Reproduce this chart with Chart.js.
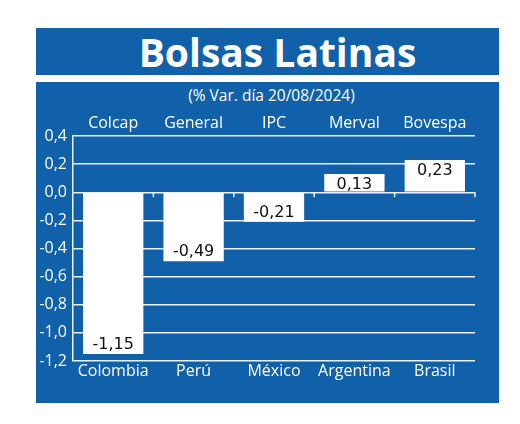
<!DOCTYPE html>
<html>
<head>
<meta charset="utf-8">
<script src="https://cdn.jsdelivr.net/npm/chart.js@4"></script>
<style>
  body { margin: 0; background: #fff; width: 520px; height: 424px; position: relative; overflow: hidden; font-family: 'Open Sans', sans-serif; }
  .box { position: absolute; left: 36px; width: 463px; background: #1160aa; }
  #head { top: 28px; height: 47px; color: #fff; font-weight: 700; font-size: 39px; line-height: 47px; text-align: center; }
  #head span { position: relative; left: 10px; }
  #panel { top: 82px; height: 321px; }
  #sub { position: absolute; left: 0; width: 463px; top: 2px; text-align: center; color: #fff; font-size: 15.5px; }
  #sub span { position: relative; left: 4px; }
  #chart { position: absolute; left: 0; top: 0; }
</style>
</head>
<body>
<div id="head" class="box"><span>Bolsas Latinas</span></div>
<div id="panel" class="box">
  <div id="sub"><span>(% Var. día 20/08/2024)</span></div>
  <canvas id="chart" width="463" height="321"></canvas>
</div>
<script>
// datos del grafico
const paises = ['Colombia', 'Perú', 'México', 'Argentina', 'Brasil']
const indices = ['Colcap', 'General', 'IPC', 'Merval', 'Bovespa']
const variacion = [-1.15, -0.49, -0.21, 0.13, 0.23]

const blanco = '#ffffff'
const lineas = '#e6f3ff'

function coma(v) {
  return v.toFixed(2).replace('.', ',')
}

// etiquetas con el valor dentro de cada barra
const etiquetas = {
  id: 'etiquetas',
  afterDatasetsDraw(chart) {
    const ctx = chart.ctx
    const meta = chart.getDatasetMeta(0)
    ctx.save()
    ctx.font = '16px "DejaVu Sans"'
    ctx.fillStyle = '#111'
    ctx.textAlign = 'center'
    meta.data.forEach((bar, i) => {
      let v = variacion[i]
      if (v >= 0) {
        ctx.textBaseline = 'top'
        ctx.fillText(coma(v), bar.x, bar.y + 3)
      } else {
        ctx.textBaseline = 'bottom'
        ctx.fillText(coma(v), bar.x, bar.y - 1)
      }
    })
    ctx.restore()
  }
}

// marcas pequeñas sobre la linea del cero
const marcas = {
  id: 'marcas',
  afterDatasetsDraw(chart) {
    const x = chart.scales.x
    const y = chart.scales.y
    const ctx = chart.ctx
    let paso = (x.getPixelForValue(1) - x.getPixelForValue(0)) / 2
    let cero = y.getPixelForValue(0)
    ctx.save()
    ctx.strokeStyle = lineas
    ctx.lineWidth = 1.5
    for (let i = 0; i < paises.length; i++) {
      let px = x.getPixelForValue(i) + paso
      ctx.beginPath()
      ctx.moveTo(px, cero)
      ctx.lineTo(px, cero + 5)
      ctx.stroke()
    }
    ctx.restore()
  }
}

Chart.defaults.font.family = "'Open Sans'"
Chart.defaults.font.size = 16
Chart.defaults.color = blanco

new Chart(document.getElementById('chart'), {
  type: 'bar',
  data: {
    labels: paises,
    datasets: [{
      data: variacion,
      backgroundColor: blanco,
      borderWidth: 0,
      barPercentage: 0.75,
      categoryPercentage: 1
    }]
  },
  options: {
    responsive: false,
    animation: false,
    devicePixelRatio: 1,
    layout: { padding: { left: 0, right: 24, top: 0, bottom: 0 } },
    plugins: { legend: { display: false }, tooltip: { enabled: false } },
    scales: {
      x: {
        position: 'bottom',
        offset: true,
        grid: { display: false, drawTicks: false },
        border: { display: false },
        ticks: { padding: 1, color: blanco },
        afterFit(s) { s.height = 42 }
      },
      x2: {
        type: 'category',
        position: 'top',
        labels: indices,
        offset: true,
        grid: { display: false, drawTicks: false },
        border: { display: false },
        ticks: { padding: 3, color: blanco },
        afterFit(s) { s.height = 54 }
      },
      y: {
        min: -1.2,
        max: 0.4,
        ticks: {
          stepSize: 0.2,
          padding: 6,
          color: blanco,
          callback: v => v.toFixed(1).replace('.', ',').replace('-0,0', '0,0')
        },
        grid: { color: lineas, lineWidth: 1.5, drawTicks: false },
        border: { color: lineas, width: 1.5 },
        afterFit(s) { s.width = 37 }
      }
    }
  },
  plugins: [etiquetas, marcas]
})
</script>
</body>
</html>
